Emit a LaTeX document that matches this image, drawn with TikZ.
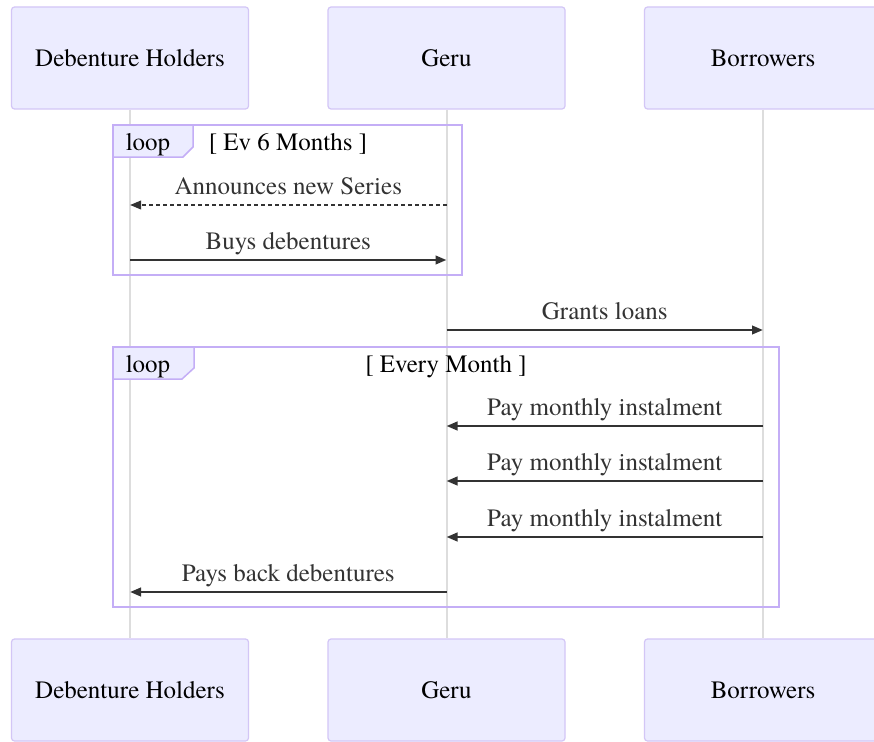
\documentclass[tikz,border=0pt]{standalone}
\usepackage{fontspec}
\setmainfont{texgyretermes}[Extension=.otf, UprightFont=*-regular, BoldFont=*-bold, ItalicFont=*-italic, BoldItalicFont=*-bolditalic]
\usetikzlibrary{arrows.meta}
\definecolor{actfill}{HTML}{ECECFF}
\definecolor{actborder}{HTML}{D3C6F6}
\definecolor{loopc}{HTML}{C4AEF6}
\definecolor{lifec}{HTML}{DDDDDD}
\definecolor{msgc}{HTML}{333333}
\begin{document}
\begin{tikzpicture}[x=1pt,y=-1pt,
  actor/.style={draw=actborder, fill=actfill, line width=1.2pt, rounded corners=3pt,
    minimum width=237pt, minimum height=102pt, inner sep=0pt,
    font=\fontsize{25}{28}\selectfont, text=black},
  life/.style={draw=lifec, line width=2pt},
  msg/.style={draw=msgc, line width=2.4pt, -{Triangle[length=11pt,width=8.5pt]}},
  dmsg/.style={msg, line width=2pt, dash pattern=on 4pt off 3pt},
  mlabel/.style={anchor=base, yshift=11pt, text=msgc, font=\fontsize{25}{28}\selectfont, inner sep=0pt},
  loopbox/.style={draw=loopc, line width=2pt},
  looptab/.style={draw=loopc, fill=actfill, line width=1.5pt},
  looptxt/.style={anchor=base, text=black, font=\fontsize{25}{28}\selectfont, inner sep=0pt}
]
\clip (0,0) rectangle (874,741);
\fill[white] (0,0) rectangle (874,741);

% actors
\node[actor] (dh) at (130,58) {Debenture Holders};
\node[actor] (ge) at (446.5,58) {Geru};
\node[actor] (bo) at (763,58) {Borrowers};
\node[actor] (dhb) at (130,690) {Debenture Holders};
\node[actor] (geb) at (446.5,690) {Geru};
\node[actor] (bob) at (763,690) {Borrowers};

% lifelines
\draw[life] (dh.south) -- (dhb.north);
\draw[life] (ge.south) -- (geb.north);
\draw[life] (bo.south) -- (bob.north);

% loop 1
\draw[loopbox] (113,125) rectangle (462,275);
\draw[looptab] (113,125) -- (193,125) -- (193,147) -- (183,157) -- (113,157) -- cycle;
\node[looptxt] (l1) at (148,150) {loop};
\node[looptxt] (l1c) at (288,150) {[ Ev 6 Months ]};

% loop 2
\draw[loopbox] (113,347) rectangle (779,607);
\draw[looptab] (113,347) -- (194,347) -- (194,368) -- (182,379) -- (113,379) -- cycle;
\node[looptxt] (l2) at (148,372) {loop};
\node[looptxt] (l2c) at (446,372) {[ Every Month ]};

% message endpoints
\coordinate (g1) at (446.5,205); \coordinate (d1) at (130,205);
\coordinate (d2) at (130,260);   \coordinate (g2) at (446.5,260);
\coordinate (g3) at (446.5,330); \coordinate (b3) at (763,330);
\coordinate (b4) at (763,426);   \coordinate (g4) at (446.5,426);
\coordinate (b5) at (763,481);   \coordinate (g5) at (446.5,481);
\coordinate (b6) at (763,537);   \coordinate (g6) at (446.5,537);
\coordinate (g7) at (446.5,592); \coordinate (d7) at (130,592);

\draw[dmsg] (g1) -- node[mlabel] {Announces new Series} (d1);
\draw[msg] (d2) -- node[mlabel] {Buys debentures} (g2);
\draw[msg] (g3) -- node[mlabel] {Grants loans} (b3);
\draw[msg] (b4) -- node[mlabel] {Pay monthly instalment} (g4);
\draw[msg] (b5) -- node[mlabel] {Pay monthly instalment} (g5);
\draw[msg] (b6) -- node[mlabel] {Pay monthly instalment} (g6);
\draw[msg] (g7) -- node[mlabel] {Pays back debentures} (d7);
\end{tikzpicture}
\end{document}
